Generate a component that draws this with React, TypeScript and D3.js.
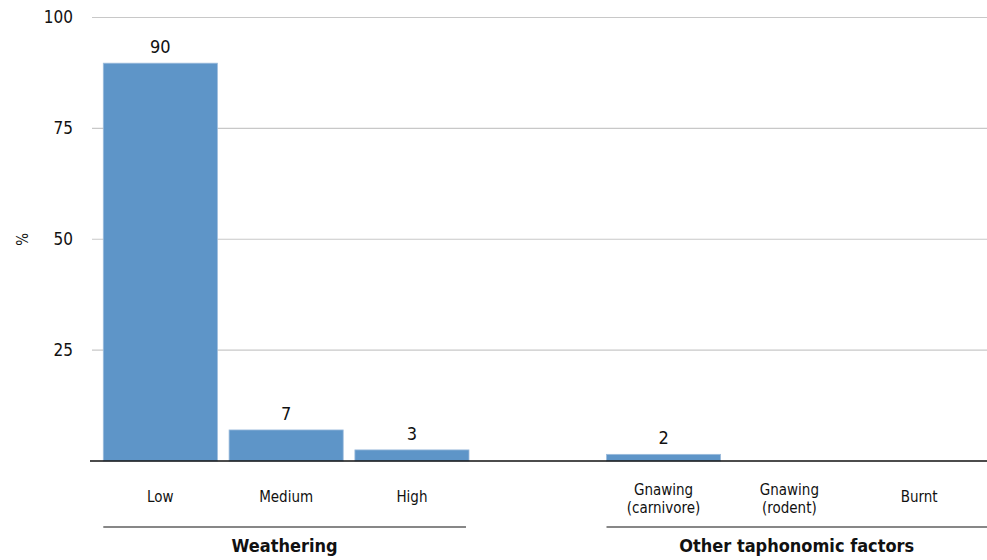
import React from "react";
import * as d3 from "d3";

const categories = ["Low", "Medium", "High", "", "Gnawing\n(carnivore)", "Gnawing\n(rodent)", "Burnt"];
const values: (number | null)[] = [89.7, 7, 2.5, null, 1.5, 0, 0];
const groups = [
  { name: "Weathering", from: 0, to: 2 },
  { name: "Other taphonomic factors", from: 4, to: 6 },
];
const yTicks = [25, 50, 75, 100];

const W = 987;
const H = 560;
const FONT = "'Liberation Sans Narrow', 'DejaVu Sans Condensed', 'Roboto', sans-serif";

export default function App() {
  const keys = categories.map((c, i) => `${i}`);
  const x = d3.scaleBand<string>().domain(keys).range([97.5, 978]).paddingInner(0.093).paddingOuter(0.046);
  const y = d3.scaleLinear().domain([0, 100]).range([461, 17.5]);
  const fmt = d3.format(".0f");
  const bw = x.bandwidth();

  return (
    <svg width={W} height={H} style={{ position: "absolute", left: 0, top: 0, fontFamily: FONT, fontStretch: "condensed" }}>
      <rect width={W} height={H} fill="#fff" />
      {yTicks.map((t) => (
        <g key={t}>
          <line x1={92} x2={W} y1={y(t)} y2={y(t)} stroke="#c8c8c8" strokeWidth={1.2} />
          <text x={73} y={y(t)} dy="0.35em" textAnchor="end" fontSize={17} fill="#111">
            {t}
          </text>
        </g>
      ))}
      <text transform={`translate(23,${y(50)}) rotate(-90)`} textAnchor="middle" dy="0.35em" fontSize={15} fill="#111">
        %
      </text>
      {values.map((v, i) =>
        v === null ? null : (
          <g key={i}>
            {v > 0 && (
              <rect
                x={x(keys[i])!}
                y={y(v)}
                width={bw}
                height={y(0) - y(v)}
                fill="#5e95c8"
                stroke="#9dbcdc"
                strokeWidth={0.8}
              />
            )}
            {v > 0 && (
              <text x={x(keys[i])! + bw / 2} y={y(v) - 10} textAnchor="middle" fontSize={18} fill="#111">
                {fmt(v)}
              </text>
            )}
          </g>
        )
      )}
      <line x1={90} x2={W} y1={y(0)} y2={y(0)} stroke="#111" strokeWidth={1.5} />
      {categories.map((c, i) => {
        const lines = c ? c.split("\n") : [];
        const cx = x(keys[i])! + bw / 2 + (i === 6 ? 4 : 0);
        const startY = lines.length > 1 ? 490 : 497;
        return (
          <text key={i} textAnchor="middle" fontSize={15} fill="#111">
            {lines.map((l, j) => (
              <tspan key={j} x={cx} y={startY + j * 18} dy="0.35em">
                {l}
              </tspan>
            ))}
          </text>
        );
      })}
      {groups.map((g, gi) => {
        const x1 = x(keys[g.from])!;
        const x2 = gi === groups.length - 1 ? W : x(keys[g.to])! + bw - 3;
        const cx = (x1 + x2) / 2;
        return (
          <g key={g.name}>
            <line x1={x1} x2={x2} y1={527} y2={527} stroke="#111" strokeWidth={1.2} />
            <text x={cx} y={546} dy="0.35em" textAnchor="middle" fontSize={18} fontWeight="bold" fill="#111">
              {g.name}
            </text>
          </g>
        );
      })}
    </svg>
  );
}
